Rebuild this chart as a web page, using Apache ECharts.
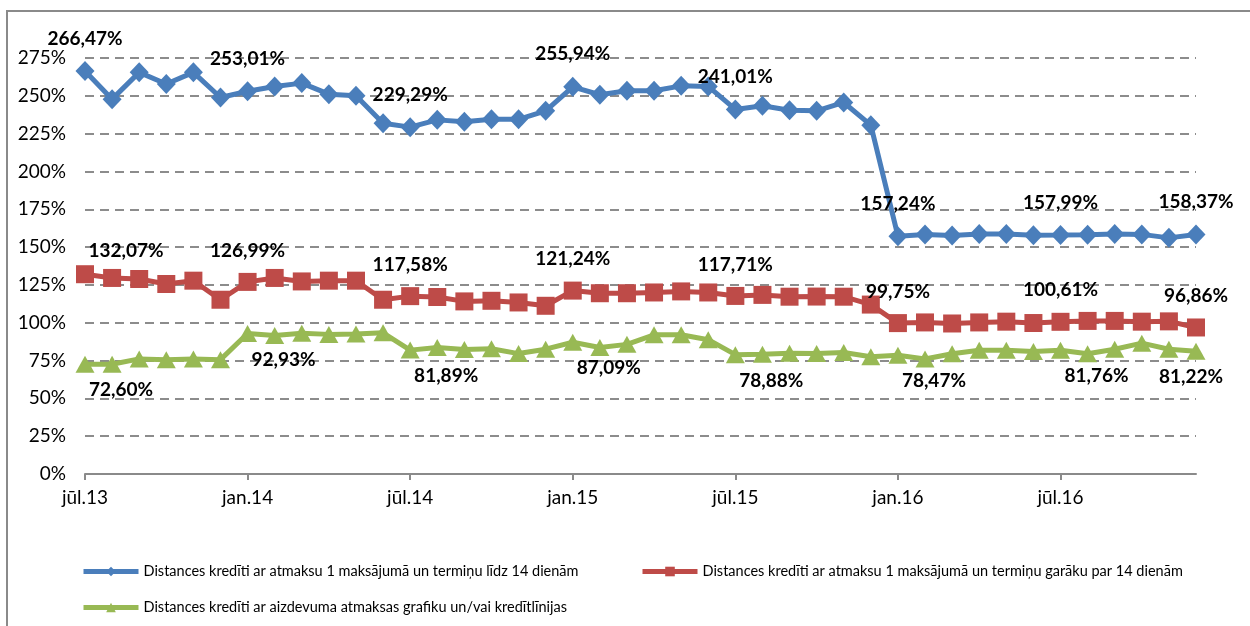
<!DOCTYPE html>
<html>
<head>
<meta charset="utf-8">
<script src="https://cdn.jsdelivr.net/npm/echarts@6.0.0/dist/echarts.min.js"></script>
<style>
html,body{margin:0;padding:0;background:#fff;}
#chart{width:1250px;height:626px;}
</style>
</head>
<body>
<div id="chart"></div>
<script>
var months = ['jūl.13','aug.13','sep.13','okt.13','nov.13','dec.13',
	'jan.14','feb.14','mar.14','apr.14','mai.14','jūn.14','jūl.14','aug.14','sep.14','okt.14','nov.14','dec.14',
	'jan.15','feb.15','mar.15','apr.15','mai.15','jūn.15','jūl.15','aug.15','sep.15','okt.15','nov.15','dec.15',
	'jan.16','feb.16','mar.16','apr.16','mai.16','jūn.16','jūl.16','aug.16','sep.16','okt.16','nov.16','dec.16'];

var names = ['Distances kredīti ar atmaksu 1 maksājumā un termiņu līdz 14 dienām',
	'Distances kredīti ar atmaksu 1 maksājumā un termiņu garāku par 14 dienām',
	'Distances kredīti ar aizdevuma atmaksas grafiku un/vai kredītlīnijas'];

var short14 = [266.47,247.8,265.5,257.8,265.5,248.9,253.01,256.2,258.4,251.1,250.0,231.9,
	229.29,234.1,232.8,234.5,234.5,240.1,255.94,250.7,253.3,253.3,256.6,256.2,
	241.01,243.4,240.5,240.1,245.6,230.6,157.24,158.3,157.6,158.6,158.6,157.9,
	157.99,158.2,158.6,158.4,156.1,158.37];

var long14 = [132.07,129.6,128.9,125.6,127.8,115.2,126.99,129.6,127.3,127.8,127.8,115.2,
	117.58,117.0,114.1,114.5,113.4,111.2,121.24,119.5,119.5,120.0,120.7,120.0,
	117.71,118.4,117.2,117.3,117.2,112.0,99.75,100.2,99.5,100.2,100.7,99.8,
	100.61,101.2,101.2,100.7,100.9,96.86];

var schedule = [72.60,72.6,76.1,75.6,76.1,75.6,92.93,91.5,93.0,92.3,92.5,93.3,
	81.89,83.6,82.3,82.8,79.6,82.5,87.09,83.6,85.7,92.0,92.0,88.8,
	78.88,79.2,79.8,79.6,80.3,77.5,78.47,76.0,79.5,81.8,81.8,81.0,
	81.76,79.5,82.5,86.5,82.5,81.22];

// punkti ar datu etiķetēm
var labelIdx = [0,6,12,18,24,30,36,41];

var font = 'Lato';

function fmt(v){
	return v.toFixed(2).replace('.', ',') + '%';
}

function build(values, kind){
	var out = [];
	for(var i=0;i<values.length;i++){
		if(labelIdx.indexOf(i) < 0){
			out.push(values[i]);
			continue;
		}
		var lab = {show:true};
		if(kind == 'green'){
			lab.position = 'bottom';
			lab.distance = 8;
			lab.offset = (i == values.length-1) ? [-5,0] : [36,0];
		}
		if(kind == 'red' && i == 0){
			lab.offset = [41,8];
		}
		out.push({value: values[i], label: lab});
	}
	return out;
}

var labelStyle = {
	position:'top',
	distance:13,
	color:'#000',
	fontFamily:font,
	fontWeight:'bold',
	fontSize:19,
	formatter:function(p){ return fmt(p.value); }
};

var myChart = echarts.init(document.getElementById('chart'));

var legendBase = {
	orient:'horizontal',
	itemWidth:55,
	itemHeight:12,
	itemGap:5,
	lineStyle:{width:5},
	textStyle:{fontFamily:font, fontSize:14.5, color:'#000'}
};

var option = {
	animation:false,
	backgroundColor:'#fff',
	graphic:[{
		type:'rect',
		shape:{x:7, y:11, width:1270, height:650},
		style:{fill:'none', stroke:'#8a8a8a', lineWidth:2},
		silent:true
	}],
	legend:[
		Object.assign({data:[names[0]], left:76, top:559}, legendBase),
		Object.assign({data:[names[1]], left:635, top:559}, legendBase),
		Object.assign({data:[names[2]], left:76, top:595}, legendBase)
	],
	grid:{left:85, right:54, top:58, bottom:152},
	xAxis:{
		type:'category',
		boundaryGap:false,
		data:months,
		axisLine:{lineStyle:{color:'#8a8a8a', width:2}},
		axisTick:{interval:5, length:6, lineStyle:{color:'#8a8a8a', width:2}},
		axisLabel:{interval:5, margin:14, color:'#000', fontFamily:font, fontSize:19},
		splitLine:{show:false}
	},
	yAxis:{
		type:'value',
		min:0,
		max:275,
		interval:25,
		axisLine:{show:false},
		axisTick:{show:false},
		axisLabel:{formatter:'{value}%', margin:19, color:'#000', fontFamily:font, fontSize:19},
		splitLine:{lineStyle:{color:'#8c8c8c', width:2, type:[9,6]}}
	},
	series:[
		{
			name:names[0],
			type:'line',
			data:build(short14, 'blue'),
			symbol:'diamond',
			symbolSize:[19,20],
			showAllSymbol:true,
			itemStyle:{color:'#4a7ebb'},
			lineStyle:{width:5, color:'#4a7ebb'},
			label:labelStyle,
			z:4
		},
		{
			name:names[1],
			type:'line',
			data:build(long14, 'red'),
			symbol:'rect',
			symbolSize:18,
			showAllSymbol:true,
			itemStyle:{color:'#be4b48'},
			lineStyle:{width:5, color:'#be4b48'},
			label:labelStyle,
			z:3
		},
		{
			name:names[2],
			type:'line',
			data:build(schedule, 'green'),
			symbol:'triangle',
			symbolSize:[19,17],
			showAllSymbol:true,
			itemStyle:{color:'#98b954'},
			lineStyle:{width:5, color:'#98b954'},
			label:labelStyle,
			z:2
		}
	]
};

myChart.setOption(option);
</script>
</body>
</html>
